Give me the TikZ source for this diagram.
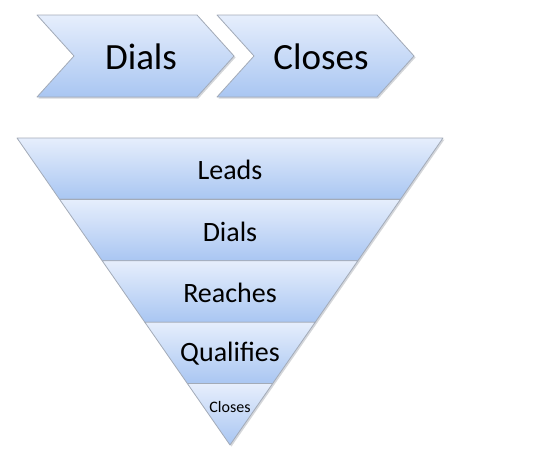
\documentclass[tikz,border=0pt]{standalone}
\usepackage{fontspec}
\setmainfont{Carlito}
\usetikzlibrary{calc}
\definecolor{topblue}{HTML}{E6EEFC}
\definecolor{botblue}{HTML}{A9C6F2}
\definecolor{edgegray}{HTML}{A3ABB8}
\definecolor{shadowgray}{HTML}{D4D6DA}
\tikzset{
  x=1pt,y=-1pt,
  panel/.style={draw=edgegray, line width=0.8pt, top color=topblue, bottom color=botblue, line join=round},
  panelshadow/.style={fill=shadowgray, draw=none},
  bigtxt/.style={font=\fontsize{37}{40}\selectfont, inner sep=0pt},
  midtxt/.style={font=\fontsize{28}{31}\selectfont, inner sep=0pt},
  smalltxt/.style={font=\fontsize{16}{18}\selectfont, inner sep=0pt}
}
\begin{document}
\begin{tikzpicture}
\useasboundingbox (0,0) rectangle (558,455);
% chevrons
\foreach \dx in {0,180}{
  \fill[panelshadow] (\dx+38.5,16.5) -- (\dx+198.5,16.5) -- (\dx+235.5,57.5) -- (\dx+198.5,98.5) -- (\dx+38.5,98.5) -- (\dx+75.5,57.5) -- cycle;
  \path[panel] (\dx+37,15) -- (\dx+197,15) -- (\dx+234,56) -- (\dx+197,97) -- (\dx+37,97) -- (\dx+74,56) -- cycle;
}
\node[bigtxt] (c1) at (141,57) {Dials};
\node[bigtxt] (c2) at (321,57) {Closes};
% funnel
\coordinate (L) at (17,138);
\coordinate (R) at (443,138);
\coordinate (A) at (230,445);
\fill[panelshadow] ($(L)+(1.5,1.5)$) -- ($(R)+(1.5,1.5)$) -- ($(A)+(1.5,1.5)$) -- cycle;
\foreach \i [evaluate=\i as \a using \i/5, evaluate=\i as \b using (\i+1)/5] in {0,...,4}{
  \path[panel] ($(L)!\a!(A)$) -- ($(R)!\a!(A)$) -- ($(R)!\b!(A)$) -- ($(L)!\b!(A)$) -- cycle;
}
\node[midtxt] (f1) at (230,170) {Leads};
\node[midtxt] (f2) at (230,232) {Dials};
\node[midtxt] (f3) at (230,293) {Reaches};
\node[midtxt] (f4) at (230,354) {Qualifies};
\node[smalltxt] (f5) at (230,407) {Closes};
\end{tikzpicture}
\end{document}
